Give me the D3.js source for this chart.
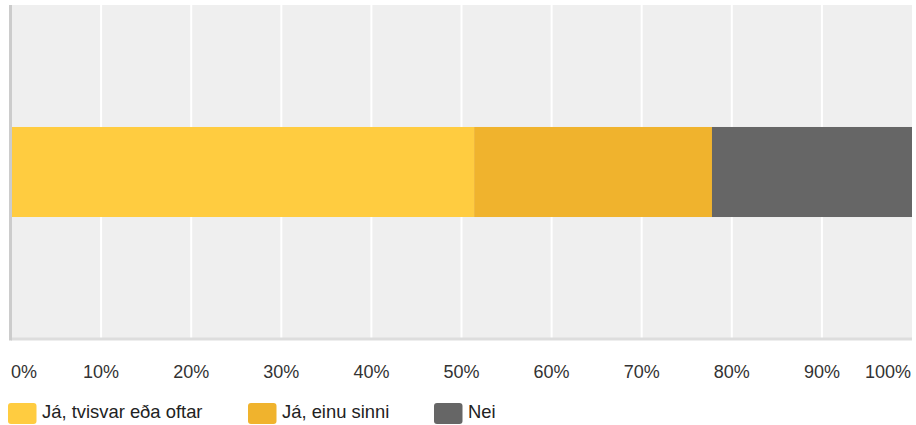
<!DOCTYPE html>
<html>
<head>
<meta charset="utf-8">
<script src="https://cdn.jsdelivr.net/npm/d3@7"></script>
<style>
  html, body { margin: 0; padding: 0; background: #fff; }
  svg { display: block; font-family: "Liberation Sans", Arial, Helvetica, sans-serif; }
</style>
</head>
<body>
<svg id="chart" width="916" height="425"></svg>
<script>
// Share of answers (percent)
const categories = ["Já, tvisvar eða oftar", "Já, einu sinni", "Nei"];
const values = [51.4, 26.4, 22.2];
const colors = ["#FFCC40", "#F0B32D", "#666666"];
const tickValues = [0, 10, 20, 30, 40, 50, 60, 70, 80, 90, 100];
const tickLabels = tickValues.map(v => v + "%");

const svg = d3.select("#chart");
const plot = { left: 11, right: 912, top: 5, bottom: 339 };

const x = d3.scaleLinear().domain([0, 100]).range([plot.left, plot.right]);
const y = d3.scaleBand().domain(["row"]).range([plot.top, plot.bottom]).paddingInner(0).paddingOuter(1.355);

// Plot background
svg.append("rect")
  .attr("x", plot.left).attr("y", plot.top)
  .attr("width", plot.right - plot.left).attr("height", plot.bottom - plot.top)
  .attr("fill", "#efefef");

// Vertical gridlines
svg.append("g").selectAll("line")
  .data(tickValues.slice(1, -1))
  .join("line")
  .attr("x1", d => x(d)).attr("x2", d => x(d))
  .attr("y1", plot.top).attr("y2", plot.bottom)
  .attr("stroke", "#ffffff").attr("stroke-width", 2);

// Stacked segments
const stack = [];
let acc = 0;
values.forEach((v, i) => { stack.push({ start: acc, end: acc + v, color: colors[i] }); acc += v; });

svg.append("g").selectAll("rect")
  .data(stack)
  .join("rect")
  .attr("x", d => x(d.start))
  .attr("width", d => x(d.end) - x(d.start))
  .attr("y", y("row"))
  .attr("height", y.bandwidth())
  .attr("fill", d => d.color);

// Axis lines
svg.append("line")
  .attr("x1", plot.left).attr("x2", plot.right)
  .attr("y1", plot.bottom).attr("y2", plot.bottom)
  .attr("stroke", "#dddddd").attr("stroke-width", 3);
svg.append("line")
  .attr("x1", plot.left - 0.5).attr("x2", plot.left - 0.5)
  .attr("y1", plot.top).attr("y2", plot.bottom + 1.5)
  .attr("stroke", "#cccccc").attr("stroke-width", 3);

// Tick labels
svg.append("g").selectAll("text")
  .data(tickValues)
  .join("text")
  .attr("x", (d, i) => i === 0 ? plot.left : (i === tickValues.length - 1 ? plot.right - 1 : x(d)))
  .attr("y", 378)
  .attr("text-anchor", (d, i) => i === 0 ? "start" : (i === tickValues.length - 1 ? "end" : "middle"))
  .attr("font-size", 18)
  .attr("fill", "#333333")
  .text((d, i) => tickLabels[i]);

// Legend
const legendX = [8, 248, 434];
const legend = svg.append("g").selectAll("g")
  .data(categories)
  .join("g")
  .attr("transform", (d, i) => `translate(${legendX[i]},403)`);
legend.append("rect")
  .attr("width", 28.5).attr("height", 21).attr("rx", 3)
  .attr("fill", (d, i) => colors[i]);
legend.append("text")
  .attr("x", 34).attr("y", 15)
  .attr("font-size", 18.4)
  .attr("fill", "#222222")
  .text(d => d);
</script>
</body>
</html>
